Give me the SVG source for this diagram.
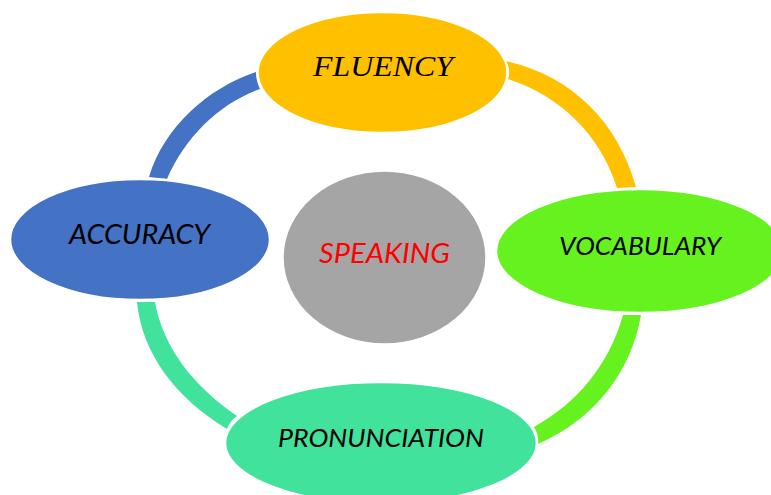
<svg xmlns="http://www.w3.org/2000/svg" width="771" height="495" viewBox="0 0 771 495">
<style>
.n{stroke:#fff;stroke-width:2.5}
text{text-anchor:middle;font-style:italic;fill:#000;font-family:"Lato","Liberation Sans",sans-serif}
</style>
<rect width="771" height="495" fill="#fff"/>
<g id="connectors">
<path fill="#ffc000" d="M506 61C572 76 618 122 636 187L617 188C600 134 560 96 508 79Q511 70 506 61Z"/>
<path fill="#66f21f" d="M641 315C631 372 595 419 538 444Q539 435 534 427C577 403 609 365 623 315Z"/>
<path fill="#41e29c" d="M137 302C142 354 176 398 227 429Q230 421 237 416C193 386 163 347 155 302Z"/>
<path fill="#4472c4" d="M149 177C164 127 208 88 256 72Q256 81 260 89C220 103 185 137 167 179Z"/>
</g>
<g id="speaking"><ellipse class="n" cx="384.500" cy="257.500" rx="102" ry="87" fill="#a5a5a5"/><text x="384.500" y="263" font-size="27" textLength="131" lengthAdjust="spacingAndGlyphs" style="fill:#ff0000">SPEAKING</text></g>
<g id="fluency"><ellipse class="n" cx="382.500" cy="72.500" rx="125" ry="60.500" fill="#ffc000"/><text x="383" y="76" font-size="30" textLength="140" lengthAdjust="spacingAndGlyphs" style="font-family:'Liberation Serif',serif">FLUENCY</text></g>
<g id="vocabulary"><ellipse class="n" cx="640" cy="251" rx="144" ry="62" fill="#66f21f"/><text x="640" y="255" font-size="25" textLength="162" lengthAdjust="spacingAndGlyphs">VOCABULARY</text></g>
<g id="pronunciation"><ellipse class="n" cx="381" cy="443" rx="156" ry="61" fill="#41e29c"/><text x="381" y="447" font-size="25" textLength="206" lengthAdjust="spacingAndGlyphs">PRONUNCIATION</text></g>
<g id="accuracy"><ellipse class="n" cx="140" cy="239.500" rx="130" ry="60.500" fill="#4472c4"/><text x="139.500" y="244" font-size="27" textLength="141" lengthAdjust="spacingAndGlyphs">ACCURACY</text></g>
</svg>
